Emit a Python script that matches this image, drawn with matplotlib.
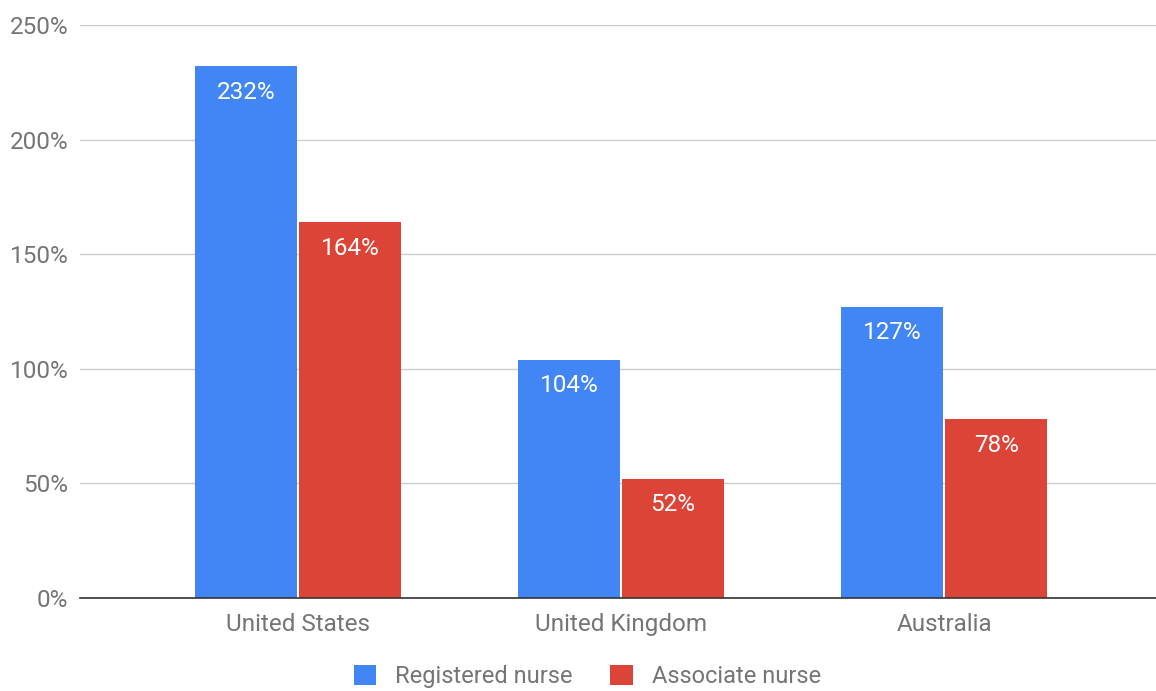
import numpy as np
import matplotlib.pyplot as plt
from matplotlib.patches import Patch

countries = ['United States', 'United Kingdom', 'Australia']
registered = [232, 104, 127]
associate = [164, 52, 78]
series_names = ['Registered nurse', 'Associate nurse']

BLUE = '#4285F4'
RED = '#DB4437'
GREY = '#757575'

plt.rcParams['font.family'] = ['Roboto', 'DejaVu Sans']

fig = plt.figure(figsize=(11.56, 6.91), dpi=100)
ax = fig.add_axes([80 / 1156, 1 - 598 / 691, 1 - 80 / 1156, (598 - 25) / 691])

x = np.arange(len(countries))
w = 0.316
b1 = ax.bar(x - w / 2 - 0.003, registered, w, color=BLUE, zorder=3)
b2 = ax.bar(x + w / 2 + 0.003, associate, w, color=RED, zorder=3)

# value labels inside the bars, near the top
for bars, vals in [(b1, registered), (b2, associate)]:
    for rect, v in zip(bars, vals):
        ax.annotate(f'{v}%', (rect.get_x() + rect.get_width() / 2, v),
                    xytext=(0, -26), textcoords='offset pixels',
                    ha='center', va='center', color='white', fontsize=17.5, zorder=4)

ax.set_ylim(0, 250)
ax.set_xlim(-0.675, 2.656)
ax.set_yticks(np.arange(0, 251, 50))
ax.set_yticklabels([f'{t}%' for t in range(0, 251, 50)])
ax.set_xticks(x)
ax.set_xticklabels(countries)
ax.tick_params(axis='both', length=0, colors=GREY, labelsize=17.5)
ax.tick_params(axis='y', pad=8.5)
ax.tick_params(axis='x', pad=11)
ax.grid(axis='y', color='#cccccc', linewidth=1, zorder=0)
for s in ['top', 'right', 'left']:
    ax.spines[s].set_visible(False)
ax.spines['bottom'].set_color('#333333')
ax.spines['bottom'].set_linewidth(1.2)
ax.spines['bottom'].set_zorder(5)

handles = [Patch(facecolor=BLUE, label=series_names[0]),
           Patch(facecolor=RED, label=series_names[1])]
leg = fig.legend(handles=handles, loc='center', bbox_to_anchor=(0.508, 0.021),
                 ncol=2, frameon=False, fontsize=17, handlelength=0.95,
                 handleheight=0.95, handletextpad=0.8, columnspacing=1.6,
                 borderpad=0.1)
for t in leg.get_texts():
    t.set_color(GREY)

fig.savefig('out.png', dpi=100)
